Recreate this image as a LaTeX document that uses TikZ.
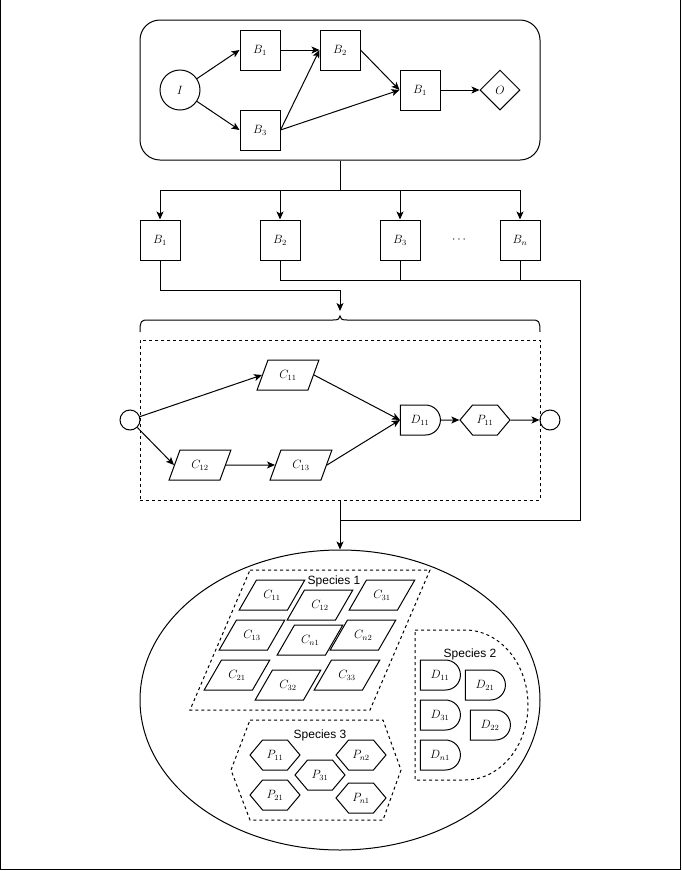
\documentclass[tikz,border=0pt]{standalone}
\usepackage{amsmath}
\usepackage{fontspec}
\newfontfamily\labelfont{Liberation Sans}
\usetikzlibrary{arrows.meta,shapes.geometric,shapes.misc,shapes.symbols,positioning}

\begin{document}
\begin{tikzpicture}[x=1pt,y=-1pt,line width=1pt,
		font=\fontsize{12}{14}\selectfont,
		>={Stealth[length=8pt,width=7pt,inset=2pt]},
		block/.style={draw,rectangle,minimum size=40pt,inner sep=0pt},
		event/.style={draw,circle,minimum size=#1,inner sep=0pt},
		gate/.style={draw,diamond,minimum size=40pt,inner sep=0pt},
		slanted/.style={draw,trapezium,text width=18pt,align=center,
			text height=8.5pt,text depth=1.5pt,inner ysep=10pt},
		task/.style={slanted,trapezium left angle=70,trapezium right angle=110,inner xsep=11pt},
		cell/.style={slanted,trapezium left angle=60,trapezium right angle=120,inner xsep=6.5pt},
		delay/.style={draw,rounded rectangle,rounded rectangle west arc=none,
			minimum width=40pt,minimum height=30pt,inner sep=0pt},
		prep/.style={draw,signal,signal to=east and west,signal pointer angle=100,
			minimum width=50pt,minimum height=30pt,inner sep=0pt},
		group/.style={dash pattern=on 3pt off 3pt},
		species/.style={font=\fontsize{12}{14}\labelfont,inner sep=0pt}]
		
		\useasboundingbox (0,0) rectangle (681,871);
		\draw (0.5,0) -- (0.5,869.5) -- (680,869.5) -- (680,0);
		
		% process on top
		\node[draw,rounded corners=20pt,minimum width=400pt,minimum height=140pt] (proc) at (340,90) {};
		\node[event=40pt] (I) at (180,90) {$I$};
		\node[block] (b1) at (260,50) {$B_1$};
		\node[block] (b2) at (340,50) {$B_2$};
		\node[block] (b3) at (260,130) {$B_3$};
		\node[block] (b4) at (420,90) {$B_1$};
		\node[gate] (O) at (500,90) {$O$};
		\draw[->] (I) -- (b1.west);
		\draw[->] (I) -- (b3.west);
		\draw[->] (b1) -- (b2);
		\draw[->] (b3.east) -- (b2.west);
		\draw[->] (b2.east) -- (b4.west);
		\draw[->] (b3.east) -- (b4.west);
		\draw[->] (b4) -- (O);
		
		% blocks
		\coordinate (split) at (340,190);
		\node[block] (r1) at (160,240) {$B_1$};
		\node[block] (r2) at (280,240) {$B_2$};
		\node[block] (r3) at (400,240) {$B_3$};
		\node[block] (rn) at (520,240) {$B_n$};
		\node (dots) at (460,240) {$\cdots$};
		\draw (proc.south) -- (split);
		\foreach \r in {r1,r2,r3,rn}
			\draw[->] (split) -| (\r.north);
		
		\coordinate (brTop) at (340,311);
		\draw[->] (r1.south) -- ++(0,30) -| (brTop);
		\draw (140,332) .. controls (140,321) and (141,320) .. (148,320) -- (333,320)
			.. controls (338,320) and (340,319) .. (340,316)
			.. controls (340,319) and (342,320) .. (347,320) -- (532,320)
			.. controls (539,320) and (540,321) .. (540,332);
		
		% one block in detail
		\node[draw,group,minimum width=400pt,minimum height=160pt] (flow) at (340,420) {};
		\node[event=20pt] (fin) at (130,420) {};
		\node[event=20pt] (fout) at (550,420) {};
		\node[task] (c11) at (288,375) {$C_{11}$};
		\node[task] (c12) at (200,465) {$C_{12}$};
		\node[task] (c13) at (301,465) {$C_{13}$};
		\node[delay] (d11) at (420,420) {$D_{11}$};
		\node[prep] (p11) at (485,420) {$P_{11}$};
		\draw[->] (fin) -- (c11.west);
		\draw[->] (fin) -- (c12.west);
		\draw[->] (c12) -- (c13);
		\draw[->] (c11.east) -- (d11.west);
		\draw[->] (c13.east) -- (d11.west);
		\draw[->] (d11) -- (p11);
		\draw[->] (p11) -- (fout);
		
		% pool of species
		\node[draw,ellipse,minimum width=400pt,minimum height=300pt] (pool) at (340,700) {};
		\draw[->] (flow.south) -- (pool.north);
		\coordinate (rTurn) at (580,280);
		\coordinate (rJoin) at (340,520);
		\draw (r2.south) |- (rTurn) |- (rJoin);
		\draw (r3.south) -- (r3 |- rTurn);
		\draw (rn.south) -- (rn |- rTurn);
		
		\draw[group] (250,570) -- (430,570) -- (370,710) -- (190,710) -- cycle;
		\node[species] (sp1) at (334,581) {Species 1};
		\node[cell] (s11) at (272,595) {$C_{11}$};
		\node[cell] (s12) at (320,605) {$C_{12}$};
		\node[cell] (s31) at (382,595) {$C_{31}$};
		\node[cell] (s13) at (252,635) {$C_{13}$};
		\node[cell] (sn1) at (310,640) {$C_{n1}$};
		\node[cell] (sn2) at (363,635) {$C_{n2}$};
		\node[cell] (s21) at (237,675) {$C_{21}$};
		\node[cell] (s32) at (288,685) {$C_{32}$};
		\node[cell] (s33) at (347,675) {$C_{33}$};
		
		\draw[group] (415,630) -- (465,630) arc[start angle=90,end angle=-90,x radius=63pt,y radius=75pt]
			-- (415,780) -- cycle;
		\node[species] (sp2) at (470,654) {Species 2};
		\node[delay] (t11) at (440,675) {$D_{11}$};
		\node[delay] (t21) at (485,685) {$D_{21}$};
		\node[delay] (t31) at (440,715) {$D_{31}$};
		\node[delay] (t22) at (490,725) {$D_{22}$};
		\node[delay] (tn1) at (440,755) {$D_{n1}$};
		
		\draw[group] (250,720) -- (383,720) -- (401,770) -- (383,820) -- (250,820) -- (231,770) -- cycle;
		\node[species] (sp3) at (320,735) {Species 3};
		\node[prep] (q11) at (275,755) {$P_{11}$};
		\node[prep] (qn2) at (361,755) {$P_{n2}$};
		\node[prep] (q31) at (320,775) {$P_{31}$};
		\node[prep] (q21) at (275,795) {$P_{21}$};
		\node[prep] (qn1) at (361,798) {$P_{n1}$};
\end{tikzpicture}
\end{document}
